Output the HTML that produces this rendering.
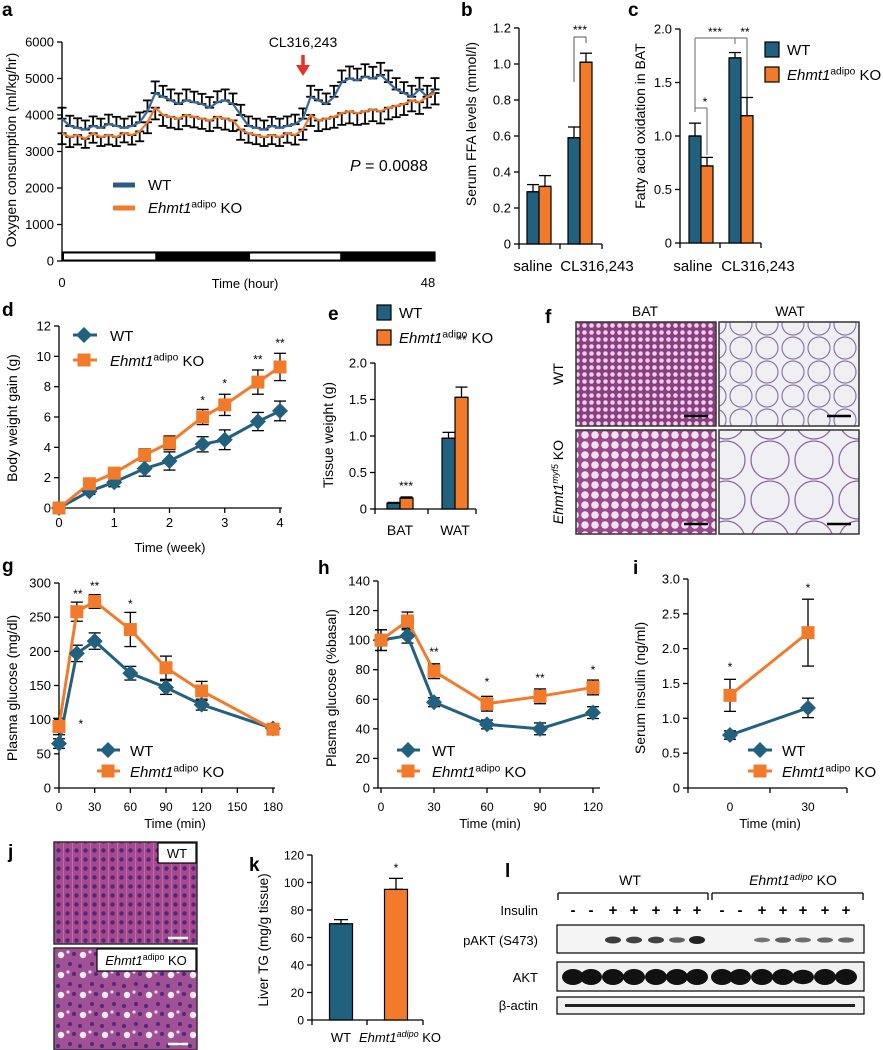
<!DOCTYPE html>
<html><head><meta charset="utf-8"><style>
html,body{margin:0;padding:0;background:#fff;}
svg{display:block;font-family:"Liberation Sans",Arial,sans-serif;}
</style></head><body>
<svg id="fig" width="883" height="1050" viewBox="0 0 883 1050" xmlns="http://www.w3.org/2000/svg">
<defs>
<pattern id="batwt" width="7" height="7" patternUnits="userSpaceOnUse"><rect width="7" height="7" fill="#8c3c80"/><circle cx="3.5" cy="3.5" r="2.3" fill="#e9d3e6"/></pattern>
<pattern id="batko" width="10" height="10" patternUnits="userSpaceOnUse"><rect width="10" height="10" fill="#9a4a8c"/><circle cx="5" cy="5" r="3.8" fill="#f1e4f0"/></pattern>
<pattern id="watwt" width="26" height="24" patternUnits="userSpaceOnUse"><rect width="26" height="24" fill="#f0eff3"/><circle cx="13" cy="12" r="11" fill="none" stroke="#8a7aa4" stroke-width="1.2"/></pattern>
<pattern id="watko" width="44" height="40" patternUnits="userSpaceOnUse"><rect width="44" height="40" fill="#f0eff3"/><circle cx="22" cy="20" r="19" fill="none" stroke="#8a6aa4" stroke-width="1.3"/></pattern>
<pattern id="livwt" width="9" height="9" patternUnits="userSpaceOnUse"><rect width="9" height="9" fill="#a8488e"/><circle cx="4.5" cy="4.5" r="2.2" fill="#4c2a7a"/><line x1="0" y1="0" x2="0" y2="9" stroke="#e8c8e0" stroke-width="0.6"/></pattern>
<pattern id="livko" width="22" height="20" patternUnits="userSpaceOnUse"><rect width="22" height="20" fill="#a25096"/><circle cx="4" cy="4" r="2" fill="#4c2a7a"/><circle cx="14" cy="6" r="2" fill="#4c2a7a"/><circle cx="8" cy="14" r="2" fill="#4c2a7a"/><circle cx="17" cy="15" r="3.2" fill="#f4eef4"/><circle cx="2" cy="12" r="1.6" fill="#e8d8e8"/></pattern>
</defs>
</svg>
<script>
// ---------- DATA ----------
const aHours=[0,1,2,3,4,5,6,7,8,9,10,11,12,13,14,15,16,17,18,19,20,21,22,23,24,25,26,27,28,29,30,31,32,33,34,35,36,37,38,39,40,41,42,43,44,45,46,47,48];
const aWT=[3900,3700,3650,3600,3700,3650,3750,3700,3650,3700,3800,4100,4600,4500,4400,4300,4400,4350,4300,4200,4350,4400,4300,4000,3700,3650,3600,3700,3650,3700,3750,3900,4500,4400,4300,4500,4900,5000,4950,5050,5000,5100,4900,4700,4600,4500,4700,4500,4700];
const aKO=[3500,3400,3450,3350,3500,3400,3450,3400,3500,3450,3550,3800,4200,4000,3950,3900,4000,3950,3900,3850,3950,3900,3850,3600,3500,3450,3400,3450,3400,3500,3450,3600,4000,3850,3900,3950,4050,4100,4050,4100,4150,4100,4200,4250,4300,4400,4350,4500,4600];
const aErr=[300,280,260,250,260,250,260,250,250,260,270,300,320,300,300,290,300,290,280,290,300,300,290,280,260,250,250,250,250,260,260,280,300,290,290,300,320,330,320,340,320,330,320,310,300,300,320,300,310];
const aTicks=[0,1000,2000,3000,4000,5000,6000];

const bCats=['saline','CL316,243'];
const bWT=[0.29,0.59], bKO=[0.32,1.01], bWTe=[0.04,0.06], bKOe=[0.06,0.05];
const bTicks=[0,0.2,0.4,0.6,0.8,1.0,1.2];

const cCats=['saline','CL316,243'];
const cWT=[1.0,1.73], cKO=[0.72,1.19], cWTe=[0.12,0.05], cKOe=[0.08,0.17];
const cTicks=[0,0.5,1.0,1.5,2.0];

const dWeeks=[0,0.55,1,1.55,2,2.6,3,3.6,4];
const dWT=[0,1.1,1.7,2.6,3.1,4.2,4.5,5.7,6.4], dWTe=[0,0.2,0.3,0.5,0.6,0.5,0.65,0.6,0.65];
const dKO=[0,1.6,2.3,3.5,4.3,6.0,6.8,8.3,9.3], dKOe=[0,0.3,0.3,0.4,0.45,0.5,0.7,0.8,0.9];
const dYTicks=[0,2,4,6,8,10,12], dXTicks=[0,1,2,3,4];

const eCats=['BAT','WAT'];
const eWT=[0.08,0.97], eKO=[0.15,1.53], eWTe=[0.01,0.08], eKOe=[0.015,0.14];
const eTicks=[0,0.5,1.0,1.5,2.0];

const gTimes=[0,15,30,60,90,120,180];
const gWT=[65,197,215,168,147,122,87], gWTe=[7,12,12,10,10,8,5];
const gKO=[90,258,273,232,176,142,86], gKOe=[12,14,10,25,17,14,5];
const gYTicks=[0,50,100,150,200,250,300], gXTicks=[0,30,60,90,120,150,180];

const hTimes=[0,15,30,60,90,120];
const hWT=[100,103,58,43,40,51], hWTe=[7,5,3,3,4,4];
const hKO=[100,113,79,57,62,68], hKOe=[7,6,5,5,5,5];
const hYTicks=[0,20,40,60,80,100,120,140], hXTicks=[0,30,60,90,120];

const iTimes=['0','30'];
const iWT=[0.76,1.15], iWTe=[0.06,0.14];
const iKO=[1.33,2.23], iKOe=[0.23,0.48];
const iTicks=[0,0.5,1.0,1.5,2.0,2.5,3.0];

const kCats=['WT','KO'];
const kVals=[70,95], kErr=[3,8];
const kTicks=[0,20,40,60,80,100,120];

const lInsulin=['-','-','+','+','+','+','+','-','-','+','+','+','+','+'];
const lPAKT=[0,0,0.8,0.75,0.75,0.5,1.0,0,0,0.35,0.5,0.4,0.45,0.45];
const lAKT=[1,1,1,1,1,1,1,1,1,1,1,0.9,1,1];

// ---------- HELPERS ----------
const NS='http://www.w3.org/2000/svg';
const svg=document.getElementById('fig');
const WT='#21607f', KO='#f27b2b';
function mk(tag,attrs,parent){const e=document.createElementNS(NS,tag);for(const k in attrs)e.setAttribute(k,attrs[k]);(parent||svg).appendChild(e);return e;}
function lin(d0,d1,r0,r1){return v=>r0+(v-d0)*(r1-r0)/(d1-d0);}
function ln(x1,y1,x2,y2,name,stroke,w,parent){const e=mk('line',{x1,y1,x2,y2,stroke:stroke||'#000','stroke-width':w||1.3},parent);


return e;}
function tx(x,y,s,name,opt){opt=opt||{};const e=mk('text',{x,y,'font-size':opt.size||13,'text-anchor':opt.anchor||'middle',fill:opt.fill||'#000'});
if(opt.weight)e.setAttribute('font-weight',opt.weight);
if(opt.italic)e.setAttribute('font-style','italic');
if(opt.rot!==undefined)e.setAttribute('transform','rotate('+opt.rot+' '+x+' '+y+')');
e.textContent=s;


return e;}
function koText(x,y,size,name,anchor,supOffset){
 const e=mk('text',{x,y,'font-size':size,'text-anchor':anchor||'start'});
 
 
 const t1=mk('tspan',{'font-style':'italic'},e);t1.textContent='Ehmt1';
 const t2=mk('tspan',{'font-size':size*0.68,dy:-size*0.38},e);t2.textContent=supOffset||'adipo';
 const t3=mk('tspan',{dy:size*0.38},e);t3.textContent=' KO';
 return e;}
function yAxis(x,yb,yt,ticks,sc,name,fmt,size){
 ln(x,yb,x,yt,name+'-line');
 ticks.forEach(t=>{const y=sc(t);ln(x-5,y,x,y,name+'-tick');tx(x-8,y+4.5,fmt?fmt(t):String(t),name+'-label',{anchor:'end',size:size||13});});}
function errV(x,y1,y2,name,cap,w){ln(x,y1,x,y2,name,'#000',w);ln(x-cap,y2,x+cap,y2,name+'-cap','#000',w);if(y1!==y2)ln(x-cap,y1,x+cap,y1,name+'-cap','#000',w);}
function rect(x,y,w,h,fill,name,stroke){const r=mk('rect',{x,y,width:w,height:h,fill,stroke:stroke||'#000','stroke-width':1.2});


return r;}
function diamond(cx,cy,s,name){const p=mk('polygon',{points:`${cx},${cy-s} ${cx+s},${cy} ${cx},${cy+s} ${cx-s},${cy}`,fill:WT});

}
function square(cx,cy,s,name){const r=mk('rect',{x:cx-s,y:cy-s,width:2*s,height:2*s,fill:KO});

}
function poly(pts,color,name,w){const p=mk('polyline',{points:pts.map(p=>p.join(',')).join(' '),fill:'none',stroke:color,'stroke-width':w||3,'stroke-linejoin':'round'});

}
function letter(s,x,y){tx(x,y,s,'panel-label-'+s,{size:19,weight:'bold',anchor:'start'});}
const TS=14;

// ---------- PANEL a ----------
letter('a',2,16);
(function(){
 const sx=lin(0,48,62,435), sy=lin(0,6000,261,42);
 yAxis(62,261,42,aTicks,sy,'a-y-axis');
 rect(62,252,373,9,'#000','a-light-dark-bar');
 rect(sx(0)+2,253.5,sx(12)-sx(0)-2,6,'#fff','a-light-period-1','none');
 rect(sx(24.2),253.5,sx(35.8)-sx(24.2),6,'#fff','a-light-period-2','none');
 aHours.forEach((h,i)=>{errV(sx(h),sy(aWT[i]),sy(aWT[i]+aErr[i]),'a-wt-errbar',4.5,1.8);errV(sx(h),sy(aKO[i]),sy(aKO[i]-aErr[i]),'a-ko-errbar',4.5,1.8);});
 poly(aHours.map((h,i)=>[sx(h),sy(aWT[i])]),'#3a6a9a','a-wt-line',2.2);
 poly(aHours.map((h,i)=>[sx(h),sy(aKO[i])]),KO,'a-ko-line',2.2);
 tx(62,287,'0','a-x-label-0',{size:13});
 tx(428,287,'48','a-x-label-48',{size:13});
 tx(245,288,'Time (hour)','a-x-title',{size:13});
 tx(16,150,'Oxygen consumption (ml/kg/hr)','a-y-title',{size:TS,rot:-90});
 tx(303,47,'CL316,243','a-cl-annotation',{size:14});
 ln(303,55,303,66,'a-arrow-shaft','#e8312a',3.5);
 const ar=mk('polygon',{points:'296,65 310,65 303,76',fill:'#e8312a'});
 
 
 const p=mk('text',{x:350,y:171,'font-size':16});
 
 
 const pi=mk('tspan',{'font-style':'italic'},p);pi.textContent='P';
 const pr=mk('tspan',{},p);pr.textContent=' = 0.0088';
 ln(113,185,135,185,'a-legend-wt-swatch','#2d5a86',5);
 tx(148,190,'WT','a-legend-wt-label',{size:15,anchor:'start'});
 ln(113,208,135,208,'a-legend-ko-swatch',KO,5);
 koText(148,213,15,'a-legend-ko-label');
})();

// ---------- PANEL b ----------
letter('b',461,16);
(function(){
 const sy=lin(0,1.2,244,28);
 yAxis(519,244,28,bTicks,sy,'b-y-axis',v=>v===0?'0':v.toFixed(1));
 ln(519,244,602,244,'b-x-axis');
 [519,560,602].forEach(x=>ln(x,244,x,249,'b-x-tick'));
 const cx=[539,580];
 bCats.forEach((c,i)=>{
  rect(cx[i]-12,sy(bWT[i]),12,244-sy(bWT[i]),WT,'b-bar-wt-'+c);
  rect(cx[i],sy(bKO[i]),12,244-sy(bKO[i]),KO,'b-bar-ko-'+c);
  errV(cx[i]-6,sy(bWT[i]),sy(bWT[i]+bWTe[i]),'b-err-wt',6);
  errV(cx[i]+6,sy(bKO[i]),sy(bKO[i]+bKOe[i]),'b-err-ko',6);
 });
 tx(533,271,'saline','b-x-label-saline',{size:15});
 tx(597,271,'CL316,243','b-x-label-cl',{size:15});
 tx(476,124,'Serum FFA levels (mmol/l)','b-y-title',{size:TS,rot:-90});
 ln(574,37,574,82,'b-sig-bracket','#555',1);ln(574,37,586,37,'b-sig-bracket','#555',1);ln(586,37,586,43,'b-sig-bracket','#555',1);
 tx(580,34,'***','b-sig-stars',{size:12});
})();

// ---------- PANEL c ----------
letter('c',628,16);
(function(){
 const sy=lin(0,2.0,243,29);
 yAxis(680,243,29,cTicks,sy,'c-y-axis',v=>v===0?'0':v.toFixed(1));
 ln(680,243,761,243,'c-x-axis');
 [680,720,761].forEach(x=>ln(x,243,x,248,'c-x-tick'));
 const cx=[701,741];
 cCats.forEach((c,i)=>{
  rect(cx[i]-12,sy(cWT[i]),12,243-sy(cWT[i]),WT,'c-bar-wt-'+c);
  rect(cx[i],sy(cKO[i]),12,243-sy(cKO[i]),KO,'c-bar-ko-'+c);
  errV(cx[i]-6,sy(cWT[i]),sy(cWT[i]+cWTe[i]),'c-err-wt',6);
  errV(cx[i]+6,sy(cKO[i]),sy(cKO[i]+cKOe[i]),'c-err-ko',6);
 });
 tx(693,271,'saline','c-x-label-saline',{size:15});
 tx(758,271,'CL316,243','c-x-label-cl',{size:15});
 tx(645,126,'Fatty acid oxidation in BAT','c-y-title',{size:TS,rot:-90});
 const g='#666';
 ln(695,38,695,112,'c-sig-bracket',g,1);ln(695,38,735,38,'c-sig-bracket',g,1);ln(735,38,735,44,'c-sig-bracket',g,1);
 ln(735,38,747,38,'c-sig-bracket',g,1);ln(747,38,747,97,'c-sig-bracket',g,1);
 ln(695,108,707,108,'c-sig-bracket',g,1);ln(707,108,707,155,'c-sig-bracket',g,1);
 tx(715,36,'***','c-sig-stars-1',{size:12});tx(745,36,'**','c-sig-stars-2',{size:12});tx(705,106,'*','c-sig-stars-3',{size:12});
 rect(765,42,14,15,WT,'c-legend-wt-swatch');
 tx(787,55,'WT','c-legend-wt-label',{size:15,anchor:'start'});
 rect(765,67,14,15,KO,'c-legend-ko-swatch');
 koText(787,80,15,'c-legend-ko-label');
})();

// ---------- PANEL d ----------
letter('d',2,316);
(function(){
 const sx=lin(0,4,59,280), sy=lin(0,12,508,326);
 yAxis(59,508,326,dYTicks,sy,'d-y-axis');
 ln(59,508,282,508,'d-x-axis');
 dXTicks.forEach(t=>{ln(sx(t),508,sx(t),513,'d-x-tick');tx(sx(t),527,String(t),'d-x-label',{size:13});});
 dWeeks.forEach((w,i)=>{if(dWTe[i])errV(sx(w),sy(dWT[i]-dWTe[i]),sy(dWT[i]+dWTe[i]),'d-err-wt',6);if(dKOe[i])errV(sx(w),sy(dKO[i]-dKOe[i]),sy(dKO[i]+dKOe[i]),'d-err-ko',6);});
 poly(dWeeks.map((w,i)=>[sx(w),sy(dWT[i])]),WT,'d-wt-line',3);
 poly(dWeeks.map((w,i)=>[sx(w),sy(dKO[i])]),KO,'d-ko-line',3);
 dWeeks.forEach((w,i)=>{diamond(sx(w),sy(dWT[i]),8,'d-wt-point');square(sx(w),sy(dKO[i]),6.5,'d-ko-point');});
 [['*',2.6,6.5],['*',3,7.6],['**',3.6,9.2],['**',4,10.3]].forEach(s=>tx(sx(s[1]),sy(s[2])-5,s[0],'d-sig-stars',{size:12}));
 tx(170,552,'Time (week)','d-x-title',{size:13});
 tx(17,418,'Body weight gain (g)','d-y-title',{size:TS,rot:-90});
 ln(73,335,97,335,'d-legend-wt-line',WT,3);diamond(84,335,8,'d-legend-wt-marker');
 tx(110,341,'WT','d-legend-wt-label',{size:15,anchor:'start'});
 ln(73,360,97,360,'d-legend-ko-line',KO,3);square(84,360,6.5,'d-legend-ko-marker');
 koText(110,366,15,'d-legend-ko-label');
})();

// ---------- PANEL e ----------
letter('e',328,320);
(function(){
 const sy=lin(0,2.0,509,363);
 yAxis(375,509,363,eTicks,sy,'e-y-axis',v=>v===0?'0':v.toFixed(1));
 ln(375,509,476,509,'e-x-axis');
 [375,428,476].forEach(x=>ln(x,509,x,514,'e-x-tick'));
 const cx=[400,455];
 eCats.forEach((c,i)=>{
  rect(cx[i]-13,sy(eWT[i]),13,509-sy(eWT[i]),WT,'e-bar-wt-'+c);
  rect(cx[i],sy(eKO[i]),13,509-sy(eKO[i]),KO,'e-bar-ko-'+c);
  errV(cx[i]-6.5,sy(eWT[i]),sy(eWT[i]+eWTe[i]),'e-err-wt',6);
  errV(cx[i]+6.5,sy(eKO[i]),sy(eKO[i]+eKOe[i]),'e-err-ko',6);
  tx(cx[i],535,c,'e-x-label-'+c,{size:14});
 });
 tx(406,490,'***','e-sig-bat',{size:12});tx(462,344,'**','e-sig-wat',{size:12});
 tx(333,435,'Tissue weight (g)','e-y-title',{size:TS,rot:-90});
 rect(377,305,14,15,WT,'e-legend-wt-swatch');
 tx(399,318,'WT','e-legend-wt-label',{size:15,anchor:'start'});
 rect(377,330,14,15,KO,'e-legend-ko-swatch');
 koText(399,343,15,'e-legend-ko-label');
})();

// ---------- PANEL f ----------
letter('f',545,323);
(function(){
 tx(645,316,'BAT','f-col-label-bat',{size:14});
 tx(790,316,'WAT','f-col-label-wat',{size:14});
 tx(563,374,'WT','f-row-label-wt',{size:14,rot:-90});
 const t=mk('text',{x:563,y:482,'font-size':14,'text-anchor':'middle',transform:'rotate(-90 563 482)'});
 
 
 const a=mk('tspan',{'font-style':'italic'},t);a.textContent='Ehmt1';
 const b=mk('tspan',{'font-size':9,dy:-5,'font-style':'italic'},t);b.textContent='myf5';
 const c=mk('tspan',{dy:5},t);c.textContent=' KO';
 const imgs=[[576,322,'batwt','f-bat-wt-image','#000'],[719,322,'watwt','f-wat-wt-image','#000'],[576,430,'batko','f-bat-ko-image','#000'],[719,430,'watko','f-wat-ko-image','#000']];
 imgs.forEach(m=>{const r=rect(m[0],m[1],140,104,'url(#'+m[2]+')',m[3],'#333');r.setAttribute('stroke-width',1.5);
  ln(m[0]+108,m[1]+94,m[0]+132,m[1]+94,m[3]+'-scale-bar',m[4],2.5);});
})();

// ---------- PANEL g ----------
letter('g',2,572);
(function(){
 const sx=lin(0,180,59,273), sy=lin(0,300,788,583);
 yAxis(59,788,583,gYTicks,sy,'g-y-axis');
 ln(59,788,275,788,'g-x-axis');
 gXTicks.forEach(t=>{ln(sx(t),788,sx(t),793,'g-x-tick');tx(sx(t),811,String(t),'g-x-label',{size:12});});
 gTimes.forEach((t,i)=>{errV(sx(t),sy(gWT[i]-gWTe[i]),sy(gWT[i]+gWTe[i]),'g-err-wt',6);errV(sx(t),sy(gKO[i]-gKOe[i]),sy(gKO[i]+gKOe[i]),'g-err-ko',6);});
 poly(gTimes.map((t,i)=>[sx(t),sy(gWT[i])]),WT,'g-wt-line',3);
 poly(gTimes.map((t,i)=>[sx(t),sy(gKO[i])]),KO,'g-ko-line',3);
 gTimes.forEach((t,i)=>{diamond(sx(t),sy(gWT[i]),8,'g-wt-point');square(sx(t),sy(gKO[i]),6.5,'g-ko-point');});
 tx(sx(15)+1,598,'**','g-sig-15',{size:12});tx(sx(30),590,'**','g-sig-30',{size:12});tx(sx(60),608,'*','g-sig-60',{size:12});tx(sx(15)+4,728,'*','g-sig-15b',{size:12});
 tx(175,828,'Time (min)','g-x-title',{size:13});
 tx(17,688,'Plasma glucose (mg/dl)','g-y-title',{size:TS,rot:-90});
 ln(97,750,120,750,'g-legend-wt-line',WT,3);diamond(108,750,8,'g-legend-wt-marker');
 tx(130,756,'WT','g-legend-wt-label',{size:15,anchor:'start'});
 ln(97,771,120,771,'g-legend-ko-line',KO,3);square(108,771,6.5,'g-legend-ko-marker');
 koText(130,777,15,'g-legend-ko-label');
})();

// ---------- PANEL h ----------
letter('h',318,574);
(function(){
 const sx=lin(0,120,381,593), sy=lin(0,140,788,581);
 yAxis(378,788,581,hYTicks,sy,'h-y-axis');
 ln(378,788,600,788,'h-x-axis');
 hXTicks.forEach(t=>{ln(sx(t),788,sx(t),793,'h-x-tick');tx(sx(t),811,String(t),'h-x-label',{size:12});});
 hTimes.forEach((t,i)=>{errV(sx(t),sy(hWT[i]-hWTe[i]),sy(hWT[i]+hWTe[i]),'h-err-wt',6);errV(sx(t),sy(hKO[i]-hKOe[i]),sy(hKO[i]+hKOe[i]),'h-err-ko',6);});
 poly(hTimes.map((t,i)=>[sx(t),sy(hWT[i])]),WT,'h-wt-line',3);
 poly(hTimes.map((t,i)=>[sx(t),sy(hKO[i])]),KO,'h-ko-line',3);
 hTimes.forEach((t,i)=>{diamond(sx(t),sy(hWT[i]),8,'h-wt-point');square(sx(t),sy(hKO[i]),6.5,'h-ko-point');});
 tx(sx(30),656,'**','h-sig-30',{size:12});tx(sx(60),686,'*','h-sig-60',{size:12});tx(sx(90),682,'**','h-sig-90',{size:12});tx(sx(120),674,'*','h-sig-120',{size:12});
 tx(490,828,'Time (min)','h-x-title',{size:13});
 tx(336,688,'Plasma glucose (%basal)','h-y-title',{size:TS,rot:-90});
 ln(397,750,420,750,'h-legend-wt-line',WT,3);diamond(408,750,8,'h-legend-wt-marker');
 tx(432,756,'WT','h-legend-wt-label',{size:15,anchor:'start'});
 ln(397,771,420,771,'h-legend-ko-line',KO,3);square(408,771,6.5,'h-legend-ko-marker');
 koText(432,777,15,'h-legend-ko-label');
})();

// ---------- PANEL i ----------
letter('i',633,574);
(function(){
 const sy=lin(0,3.0,788,579);
 const xs={'0':730,'30':808};
 yAxis(688,788,579,iTicks,sy,'i-y-axis',v=>v===0?'0':v.toFixed(1));
 ln(688,788,847,788,'i-x-axis');
 [688,770,847].forEach(x=>ln(x,788,x,793,'i-x-tick'));
 iTimes.forEach((t,i)=>{const x=xs[t];tx(x,811,t,'i-x-label',{size:12});
  errV(x,sy(iWT[i]-iWTe[i]),sy(iWT[i]+iWTe[i]),'i-err-wt',6);errV(x,sy(iKO[i]-iKOe[i]),sy(iKO[i]+iKOe[i]),'i-err-ko',6);});
 poly(iTimes.map((t,i)=>[xs[t],sy(iWT[i])]),WT,'i-wt-line',3);
 poly(iTimes.map((t,i)=>[xs[t],sy(iKO[i])]),KO,'i-ko-line',3);
 iTimes.forEach((t,i)=>{diamond(xs[t],sy(iWT[i]),8,'i-wt-point');square(xs[t],sy(iKO[i]),6.5,'i-ko-point');});
 tx(730,671,'*','i-sig-0',{size:12});tx(808,592,'*','i-sig-30',{size:12});
 tx(770,828,'Time (min)','i-x-title',{size:13});
 tx(645,688,'Serum insulin (ng/ml)','i-y-title',{size:TS,rot:-90});
 ln(748,750,772,750,'i-legend-wt-line',WT,3);diamond(760,750,8,'i-legend-wt-marker');
 tx(782,756,'WT','i-legend-wt-label',{size:15,anchor:'start'});
 ln(748,771,772,771,'i-legend-ko-line',KO,3);square(760,771,6.5,'i-legend-ko-marker');
 koText(782,777,15,'i-legend-ko-label');
})();

// ---------- PANEL j ----------
letter('j',8,858);
(function(){
 const r1=rect(54,842,143,102,'url(#livwt)','j-liver-wt-image','#333');r1.setAttribute('stroke-width',1.5);
 const r2=rect(54,948,143,102,'url(#livko)','j-liver-ko-image','#333');r2.setAttribute('stroke-width',1.5);
 rect(158,843,38,20,'#fff','j-wt-label-box','#000');
 tx(177,858,'WT','j-wt-label',{size:13});
 rect(97,949,99,22,'#fff','j-ko-label-box','#000');
 koText(146,965,13,'j-ko-label','middle');
 ln(168,938,188,938,'j-scale-bar-wt','#fff',2.5);ln(168,1044,188,1044,'j-scale-bar-ko','#fff',2.5);
})();

// ---------- PANEL k ----------
letter('k',249,871);
(function(){
 const sy=lin(0,120,1020,855);
 yAxis(312,1020,855,kTicks,sy,'k-y-axis',null,12);
 ln(312,1020,423,1020,'k-x-axis');
 [312,367,423].forEach(x=>ln(x,1020,x,1025,'k-x-tick'));
 const cx=[341,396], col=[WT,KO];
 kCats.forEach((c,i)=>{rect(cx[i]-11.5,sy(kVals[i]),23,1020-sy(kVals[i]),col[i],'k-bar-'+c);
  errV(cx[i],sy(kVals[i]),sy(kVals[i]+kErr[i]),'k-err-'+c,7);});
 tx(396,872,'*','k-sig',{size:12});
 tx(341,1042,'WT','k-x-label-wt',{size:13});
 const t=mk('text',{x:400,y:1042,'font-size':13,'text-anchor':'middle'});
 
 
 const a=mk('tspan',{'font-style':'italic'},t);a.textContent='Ehmt1';
 const b=mk('tspan',{'font-size':9,dy:-5,'font-style':'italic'},t);b.textContent='adipo';
 const c=mk('tspan',{dy:5},t);c.textContent=' KO';
 tx(268,940,'Liver TG (mg/g tissue)','k-y-title',{size:13.5,rot:-90});
})();

// ---------- PANEL l ----------
letter('l',505,877);
(function(){
 const lanes=[573,591,613,634,656,677,697,722,740,762,783,803,825,846];
 tx(630,885,'WT','l-group-wt',{size:14});
 const t=mk('text',{x:793,y:885,'font-size':14,'text-anchor':'middle'});
 
 
 const a=mk('tspan',{'font-style':'italic'},t);a.textContent='Ehmt1';
 const b=mk('tspan',{'font-size':9.5,dy:-5,'font-style':'italic'},t);b.textContent='adipo';
 const c=mk('tspan',{dy:5},t);c.textContent=' KO';
 ln(558,900,558,893,'l-bracket-wt');ln(558,893,708,893,'l-bracket-wt');ln(708,893,708,900,'l-bracket-wt');
 ln(712,900,712,893,'l-bracket-ko');ln(712,893,863,893,'l-bracket-ko');ln(863,893,863,900,'l-bracket-ko');
 tx(538,915,'Insulin','l-insulin-label',{size:13,anchor:'end'});
 tx(538,945,'pAKT (S473)','l-pakt-label',{size:13,anchor:'end'});
 tx(538,982,'AKT','l-akt-label',{size:13,anchor:'end'});
 tx(538,1010,'β-actin','l-actin-label',{size:13,anchor:'end'});
 rect(557,925,307,28,'#f4f4f4','l-pakt-blot','#000');
 rect(557,962,307,29,'#f0f0f0','l-akt-blot','#000');
 rect(557,997,307,17,'#f2f2f2','l-actin-blot','#000');
 lanes.forEach((x,i)=>{
  tx(x,915,lInsulin[i],'l-insulin-sign',{size:15,weight:'bold'});
  if(lPAKT[i]>0){const e=mk('ellipse',{cx:x,cy:940,rx:8,ry:1.5+2.5*lPAKT[i],fill:'#222','fill-opacity':0.4+0.6*lPAKT[i]});
   
   }
  const e2=mk('ellipse',{cx:x,cy:977,rx:11,ry:8*lAKT[i],fill:'#111'});
  
  
 });
 const band=mk('rect',{x:565,y:1004,width:290,height:3,fill:'#222'});
 
 
})();
</script>
</body></html>
